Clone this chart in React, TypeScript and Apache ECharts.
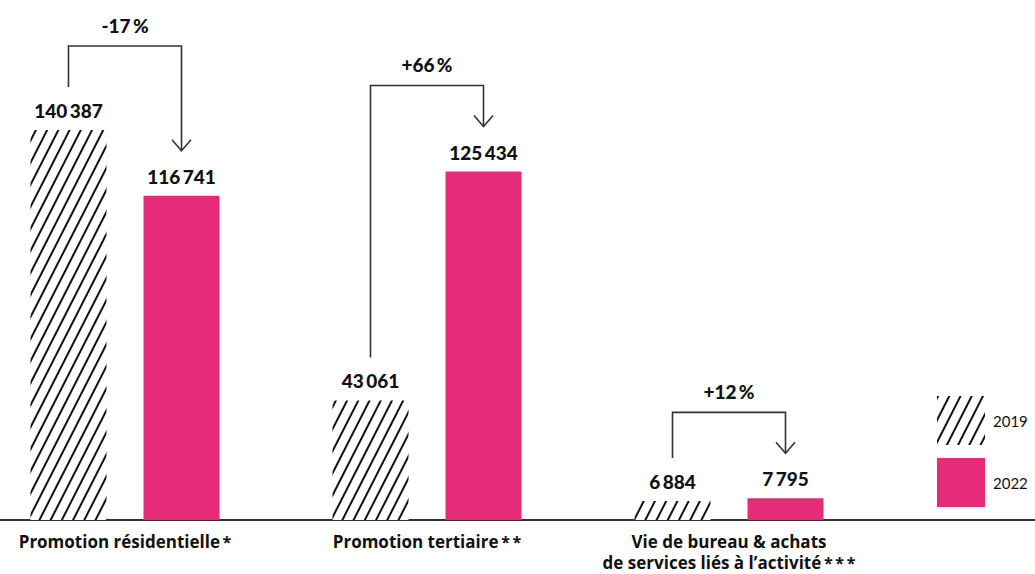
import React, { useEffect, useRef } from "react";
import * as echarts from "echarts";

const categories = [
  "Promotion résidentielle*",
  "Promotion tertiaire**",
  "Vie de bureau & achats\nde services liés à l’activité***",
  "",
];
const values2019 = [140387, 43061, 6884, null];
const values2022 = [116741, 125434, 7795, null];
const changeLabels = ["-17\u2009%", "+66\u2009%", "+12\u2009%"];
const seriesNames = ["2019", "2022"];

const PINK = "#e62c79";
const INK = "#111";
const LINE = "#333";
const BAR_W = 76;
const BAR_GAP = 37;
const FONT = "Lato, 'Noto Sans', sans-serif";
const CAT_FONT = "'Open Sans', 'Noto Sans', sans-serif";

function fmt(v: number): string {
  return String(v).replace(/\B(?=(\d{3})+(?!\d))/g, "\u2009");
}

const hatch = {
  symbol: "rect",
  symbolSize: 1,
  color: INK,
  backgroundColor: "#fff",
  dashArrayX: [1, 0],
  dashArrayY: [1.1, 7.7],
  rotation: -1.1,
};

export default function App() {
  const ref = useRef<HTMLDivElement>(null);
  useEffect(() => {
    if (!ref.current) return;
    const chart = echarts.init(ref.current, undefined, { renderer: "svg" });
    const bracketData = categories
      .slice(0, 3)
      .map((_, i) => [i, values2019[i] as number, values2022[i] as number]);
    const valueLabel = {
      show: true,
      position: "top",
      distance: 10,
      fontSize: 19,
      fontWeight: 900,
      color: INK,
      fontFamily: FONT,
      formatter: (p: any) => fmt(p.value),
    };
    chart.setOption({
      animation: false,
      backgroundColor: "#fff",
      textStyle: { fontFamily: FONT },
      grid: {
        left: -26,
        top: 20,
        width: 1208,
        bottom: 54,
        containLabel: false,
        outerBoundsMode: "none",
      },
      legend: {
        data: seriesNames,
        orient: "vertical",
        left: 937,
        top: 396,
        padding: 0,
        itemWidth: 48,
        itemHeight: 49,
        itemGap: 13,
        icon: "rect",
        textStyle: { fontSize: 15, color: INK, fontFamily: FONT, padding: [0, 0, 0, 3] },
        selectedMode: false,
      },
      xAxis: {
        type: "category",
        data: categories,
        axisLine: { lineStyle: { color: LINE, width: 2 } },
        axisTick: { show: false },
        axisLabel: {
          interval: 0,
          margin: 11,
          color: INK,
          fontSize: 17,
          fontWeight: "bold",
          fontFamily: CAT_FONT,
          lineHeight: 21,
          formatter: (v: string) =>
            v.replace(/(\*+)/, (m) => "{s|\u2009" + m.split("").join("\u2009") + "}"),
          rich: {
            s: { fontSize: 16, fontWeight: "bold", color: INK, fontFamily: CAT_FONT, lineHeight: 21 },
          },
        },
      },
      yAxis: { type: "value", min: 0, max: 180000, show: false, splitLine: { show: false } },
      series: [
        {
          name: seriesNames[0],
          type: "bar",
          data: values2019,
          barWidth: BAR_W,
          barGap: (BAR_GAP / BAR_W) * 100 + "%",
          itemStyle: { color: "#fff", decal: hatch },
          label: valueLabel,
        },
        {
          name: seriesNames[1],
          type: "bar",
          data: values2022,
          barWidth: BAR_W,
          itemStyle: { color: PINK },
          label: valueLabel,
        },
        {
          type: "custom",
          clip: false,
          z: 5,
          silent: true,
          data: bracketData,
          renderItem: (params: any, api: any) => {
            const i = api.value(0);
            const a = api.value(1);
            const b = api.value(2);
            const pa = api.coord([i, a]);
            const pb = api.coord([i, b]);
            const off = (BAR_W + BAR_GAP) / 2;
            const xl = pa[0] - off;
            const xr = pb[0] + off;
            const yl = pa[1] - 43;
            const tip = pb[1] - 45;
            const top = Math.min(yl, tip) - 41;
            const ls = { stroke: LINE, lineWidth: 1.6, fill: null };
            return {
              type: "group",
              children: [
                {
                  type: "polyline",
                  shape: { points: [[xl, yl], [xl, top], [xr, top], [xr, tip]] },
                  style: ls,
                },
                {
                  type: "polyline",
                  shape: { points: [[xr - 9.5, tip - 11], [xr, tip], [xr + 9.5, tip - 11]] },
                  style: ls,
                },
                {
                  type: "text",
                  x: (xl + xr) / 2,
                  y: top - 21,
                  style: {
                    text: changeLabels[params.dataIndex],
                    fill: INK,
                    fontSize: 19,
                    fontWeight: 900,
                    fontFamily: FONT,
                    align: "center",
                    verticalAlign: "middle",
                  },
                },
              ],
            };
          },
        },
      ],
    });
    return () => chart.dispose();
  }, []);
  return (
    <div
      ref={ref}
      style={{ position: "fixed", left: 0, top: 0, width: 1035, height: 574, background: "#fff" }}
    />
  );
}
